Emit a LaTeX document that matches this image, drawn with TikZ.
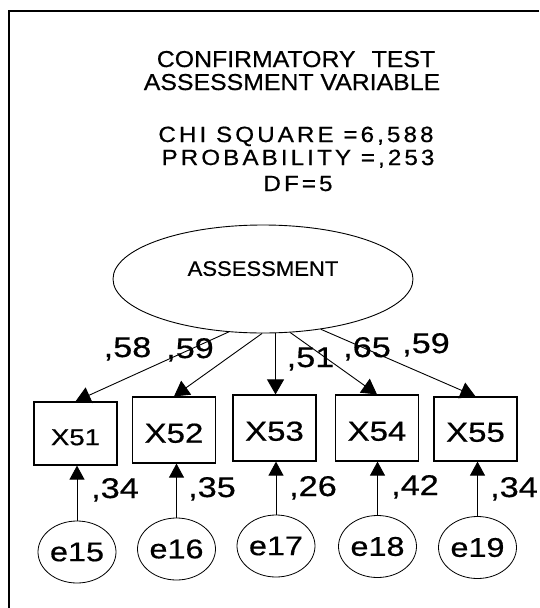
\documentclass[tikz,border=0pt]{standalone}
\usepackage{fontspec}
\setmainfont{Liberation Sans}
\newfontfamily\wf[FakeStretch=1.2,FakeBold=0.6]{Liberation Sans}
\newfontfamily\tf[FakeStretch=1.08,FakeBold=0.6]{Liberation Sans}
\newfontfamily\ef[FakeStretch=1.05,FakeBold=0.6]{Liberation Sans}
\newfontfamily\lsf[FakeStretch=1.1,LetterSpace=14,FakeBold=0.6]{Liberation Sans}
\usetikzlibrary{shapes.geometric,arrows.meta}
\begin{document}
\begin{tikzpicture}[x=1pt,y=-1pt,
  lat/.style={draw, ellipse, line width=0.9pt, inner sep=0pt, minimum width=300pt, minimum height=108pt},
  obs/.style={draw, rectangle, line width=1.2pt, inner sep=0pt, minimum width=83pt, minimum height=65pt, font=\wf\fontsize{27.5}{27.5}\selectfont, text height=25.7pt},
  err/.style={draw, ellipse, line width=0.8pt, inner sep=0pt, minimum width=78pt, minimum height=62pt, font=\wf\fontsize{27}{27}\selectfont},
  pth/.style={-{Triangle[width=17pt,length=15pt]}, line width=0.9pt},
  ept/.style={-{Triangle[width=15pt,length=14pt]}, line width=0.9pt},
  num/.style={font=\wf\fontsize{28.5}{28.5}\selectfont, inner sep=0pt, anchor=base},
  ttl/.style={font=\tf\fontsize{23}{23}\selectfont, inner sep=0pt, anchor=base},
  stat/.style={font=\lsf\fontsize{22}{22}\selectfont, inner sep=0pt, anchor=base},
]
\useasboundingbox (0,0) rectangle (539,608);
\draw[line width=2pt] (539,11) -- (9,11) -- (9,608);

\node[ttl] (t1) at (296,67) {CONFIRMATORY\hspace{0.7em}TEST};
\node[ttl] (t2) at (292,90) {ASSESSMENT VARIABLE};
\node[stat] (s1) at (296,142) {CHI SQUARE =6,588};
\node[stat] (s2) at (298,165) {PROBABILITY =,253};
\node[stat] (s3) at (298,191) {DF=5};

\node[lat, font=\ef\fontsize{21}{21}\selectfont, text depth=21pt] (A) at (263,279) {ASSESSMENT};

\node[obs, font=\wf\fontsize{23}{23}\selectfont, text height=23.5pt, minimum height=63pt] (X51) at (75.5,433.5) {X51};
\node[obs, minimum height=66pt] (X52) at (174,430) {X52};
\node[obs, minimum height=66pt] (X53) at (274.5,428) {X53};
\node[obs, minimum height=66pt] (X54) at (377,428) {X54};
\node[obs, minimum height=64pt] (X55) at (475.5,429) {X55};

\node[err] (e15) at (77,552) {e15};
\node[err] (e16) at (176.5,549) {e16};
\node[err] (e17) at (276,546) {e17};
\node[err] (e18) at (377.5,546.5) {e18};
\node[err] (e19) at (477.5,547.5) {e19};

\draw[pth] (A.237) -- (X51.north);
\draw[pth] (A.269) -- (X52.north);
\draw[pth] (A.283) -- (A.283 |- X53.north);
\draw[pth] (A.297) -- (X54.north);
\draw[pth] (A.319) -- (X55.north);

\draw[ept] (e15.north) -- (e15.north |- X51.south);
\draw[ept] (e16.north) -- (e16.north |- X52.south);
\draw[ept] (e17.north) -- (e17.north |- X53.south);
\draw[ept] (e18.north) -- (e18.north |- X54.south);
\draw[ept] (e19.north) -- (e19.north |- X55.south);

\node[num] (l1) at (127.5,357) {,58};
\node[num] (l2) at (190,358) {,59};
\node[num] (l3) at (310.5,367) {,51};
\node[num] (l4) at (367,357) {,65};
\node[num] (l5) at (426,353) {,59};

\node[num] (m1) at (115,498) {,34};
\node[num] (m2) at (212,497) {,35};
\node[num] (m3) at (313,496) {,26};
\node[num] (m4) at (415,495) {,42};
\node[num] (m5) at (514,497) {,34};
\end{tikzpicture}
\end{document}
